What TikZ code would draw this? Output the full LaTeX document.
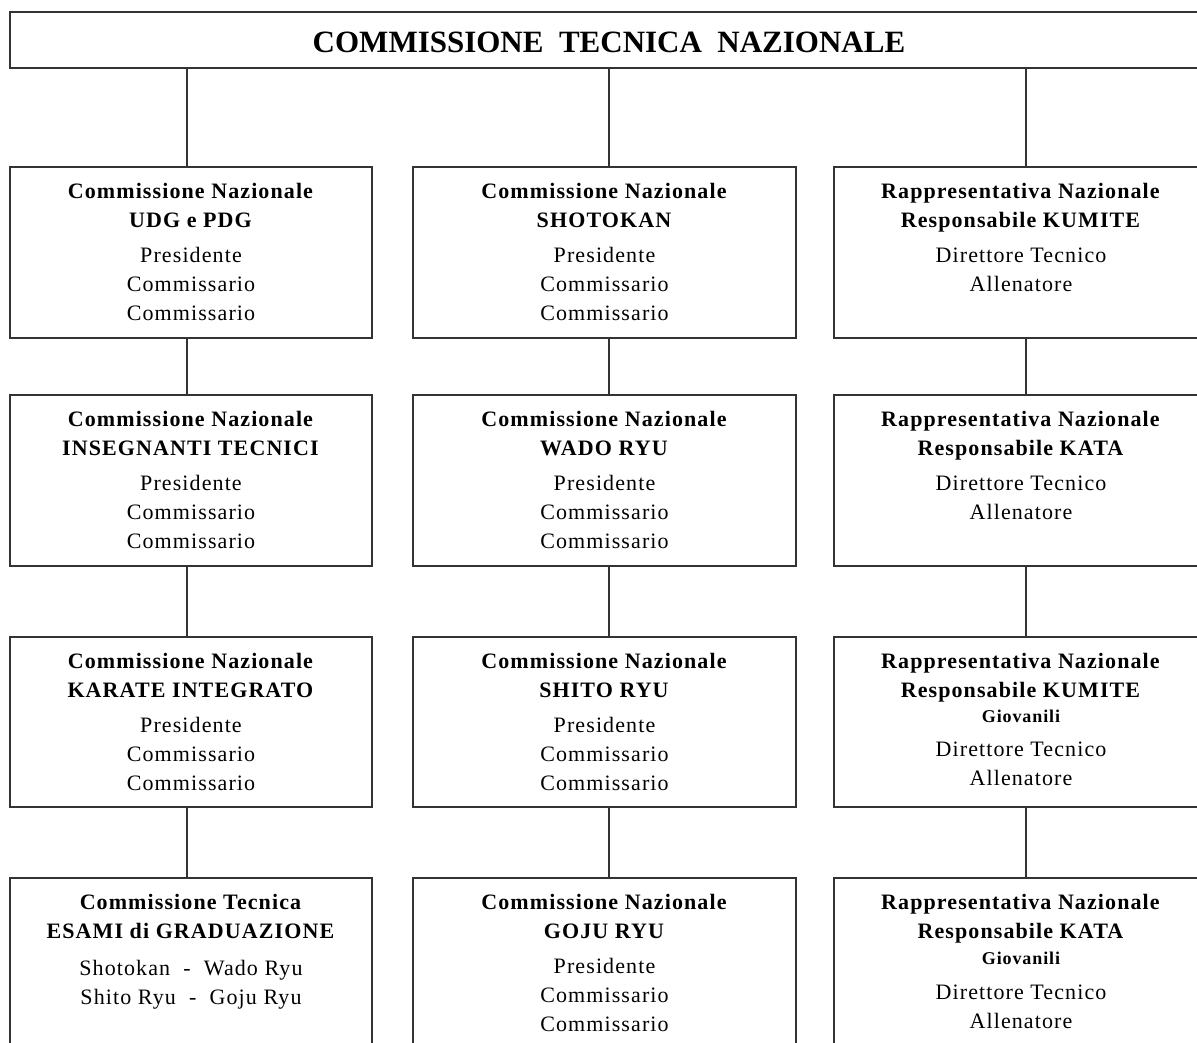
\documentclass[tikz,border=0pt]{standalone}
\usepackage{fontspec}
\setmainfont{Liberation Serif}[LetterSpace=5]
\newfontfamily\titlefont{Liberation Serif}
\begin{document}
\begin{tikzpicture}[x=1pt,y=-1pt,
  box/.style={draw=black!80, line width=1.6pt, rectangle, inner sep=0pt},
  txt/.style={align=center, inner sep=0pt, anchor=north, font=\fontsize{22}{29}\selectfont},
  conn/.style={draw=black!80, line width=1.6pt}]
\useasboundingbox (0,0) rectangle (1197,1043);
\clip (0,0) rectangle (1197,1043);
\fill[white] (0,0) rectangle (1197,1043);
% top box
\node[box, minimum width=1200pt, minimum height=56pt] (top) at (610,40) {};
\node[inner sep=0pt, font=\titlefont\bfseries\fontsize{31}{31}\selectfont] (title) at (609,42) {COMMISSIONE\ \ TECNICA\ \ NAZIONALE};
% boxes
\foreach \c/\x/\w in {1/191/362, 2/604.5/383, 3/1021/374}{
  \foreach \r/\y/\h in {1/252.5/171, 2/480.5/171, 3/722/170, 4/963.5/171}{
    \node[box, minimum width=\w pt, minimum height=\h pt] (b\c\r) at (\x,\y) {};
  }
}
\newcommand{\gv}[1]{{\fontsize{18}{20}\selectfont\bfseries #1}}
% texts
\node[txt] (t11) at ([yshift=-16.5pt]b11.north) {\textbf{Commissione Nazionale}\\\textbf{UDG e PDG}\\[6pt]Presidente\\Commissario\\Commissario};
\node[txt] (t12) at ([yshift=-16.5pt]b12.north) {\textbf{Commissione Nazionale}\\\textbf{INSEGNANTI TECNICI}\\[6pt]Presidente\\Commissario\\Commissario};
\node[txt] (t13) at ([yshift=-16.5pt]b13.north) {\textbf{Commissione Nazionale}\\\textbf{KARATE INTEGRATO}\\[6pt]Presidente\\Commissario\\Commissario};
\node[txt] (t14) at ([yshift=-16.5pt]b14.north) {\textbf{Commissione Tecnica}\\\textbf{ESAMI di GRADUAZIONE}\\[8pt]Shotokan\ \ -\ \ Wado Ryu\\Shito Ryu\ \ -\ \ Goju Ryu};
\node[txt] (t21) at ([yshift=-16.5pt]b21.north) {\textbf{Commissione Nazionale}\\\textbf{SHOTOKAN}\\[6pt]Presidente\\Commissario\\Commissario};
\node[txt] (t22) at ([yshift=-16.5pt]b22.north) {\textbf{Commissione Nazionale}\\\textbf{WADO RYU}\\[6pt]Presidente\\Commissario\\Commissario};
\node[txt] (t23) at ([yshift=-16.5pt]b23.north) {\textbf{Commissione Nazionale}\\\textbf{SHITO RYU}\\[6pt]Presidente\\Commissario\\Commissario};
\node[txt] (t24) at ([yshift=-16.5pt]b24.north) {\textbf{Commissione Nazionale}\\\textbf{GOJU RYU}\\[6pt]Presidente\\Commissario\\Commissario};
\node[txt] (t31) at ([yshift=-16.5pt]b31.north) {\textbf{Rappresentativa Nazionale}\\\textbf{Responsabile KUMITE}\\[6pt]Direttore Tecnico\\Allenatore};
\node[txt] (t32) at ([yshift=-16.5pt]b32.north) {\textbf{Rappresentativa Nazionale}\\\textbf{Responsabile KATA}\\[6pt]Direttore Tecnico\\Allenatore};
\node[txt] (t33) at ([yshift=-16.5pt]b33.north) {\textbf{Rappresentativa Nazionale}\\\textbf{Responsabile KUMITE}\\[-4pt]\gv{Giovanili}\\[5pt]Direttore Tecnico\\Allenatore};
\node[txt] (t34) at ([yshift=-16.5pt]b34.north) {\textbf{Rappresentativa Nazionale}\\\textbf{Responsabile KATA}\\[-3pt]\gv{Giovanili}\\[6pt]Direttore Tecnico\\Allenatore};
% connectors (slightly off-centre, as in the reference)
\foreach \c/\dx in {1/-4, 2/4.5, 3/5}{
  \draw[conn] ([xshift=\dx pt]top.south -| b\c1.north) -- ([xshift=\dx pt]b\c1.north);
  \draw[conn] ([xshift=\dx pt]b\c1.south) -- ([xshift=\dx pt]b\c2.north);
  \draw[conn] ([xshift=\dx pt]b\c2.south) -- ([xshift=\dx pt]b\c3.north);
  \draw[conn] ([xshift=\dx pt]b\c3.south) -- ([xshift=\dx pt]b\c4.north);
}
\end{tikzpicture}
\end{document}
